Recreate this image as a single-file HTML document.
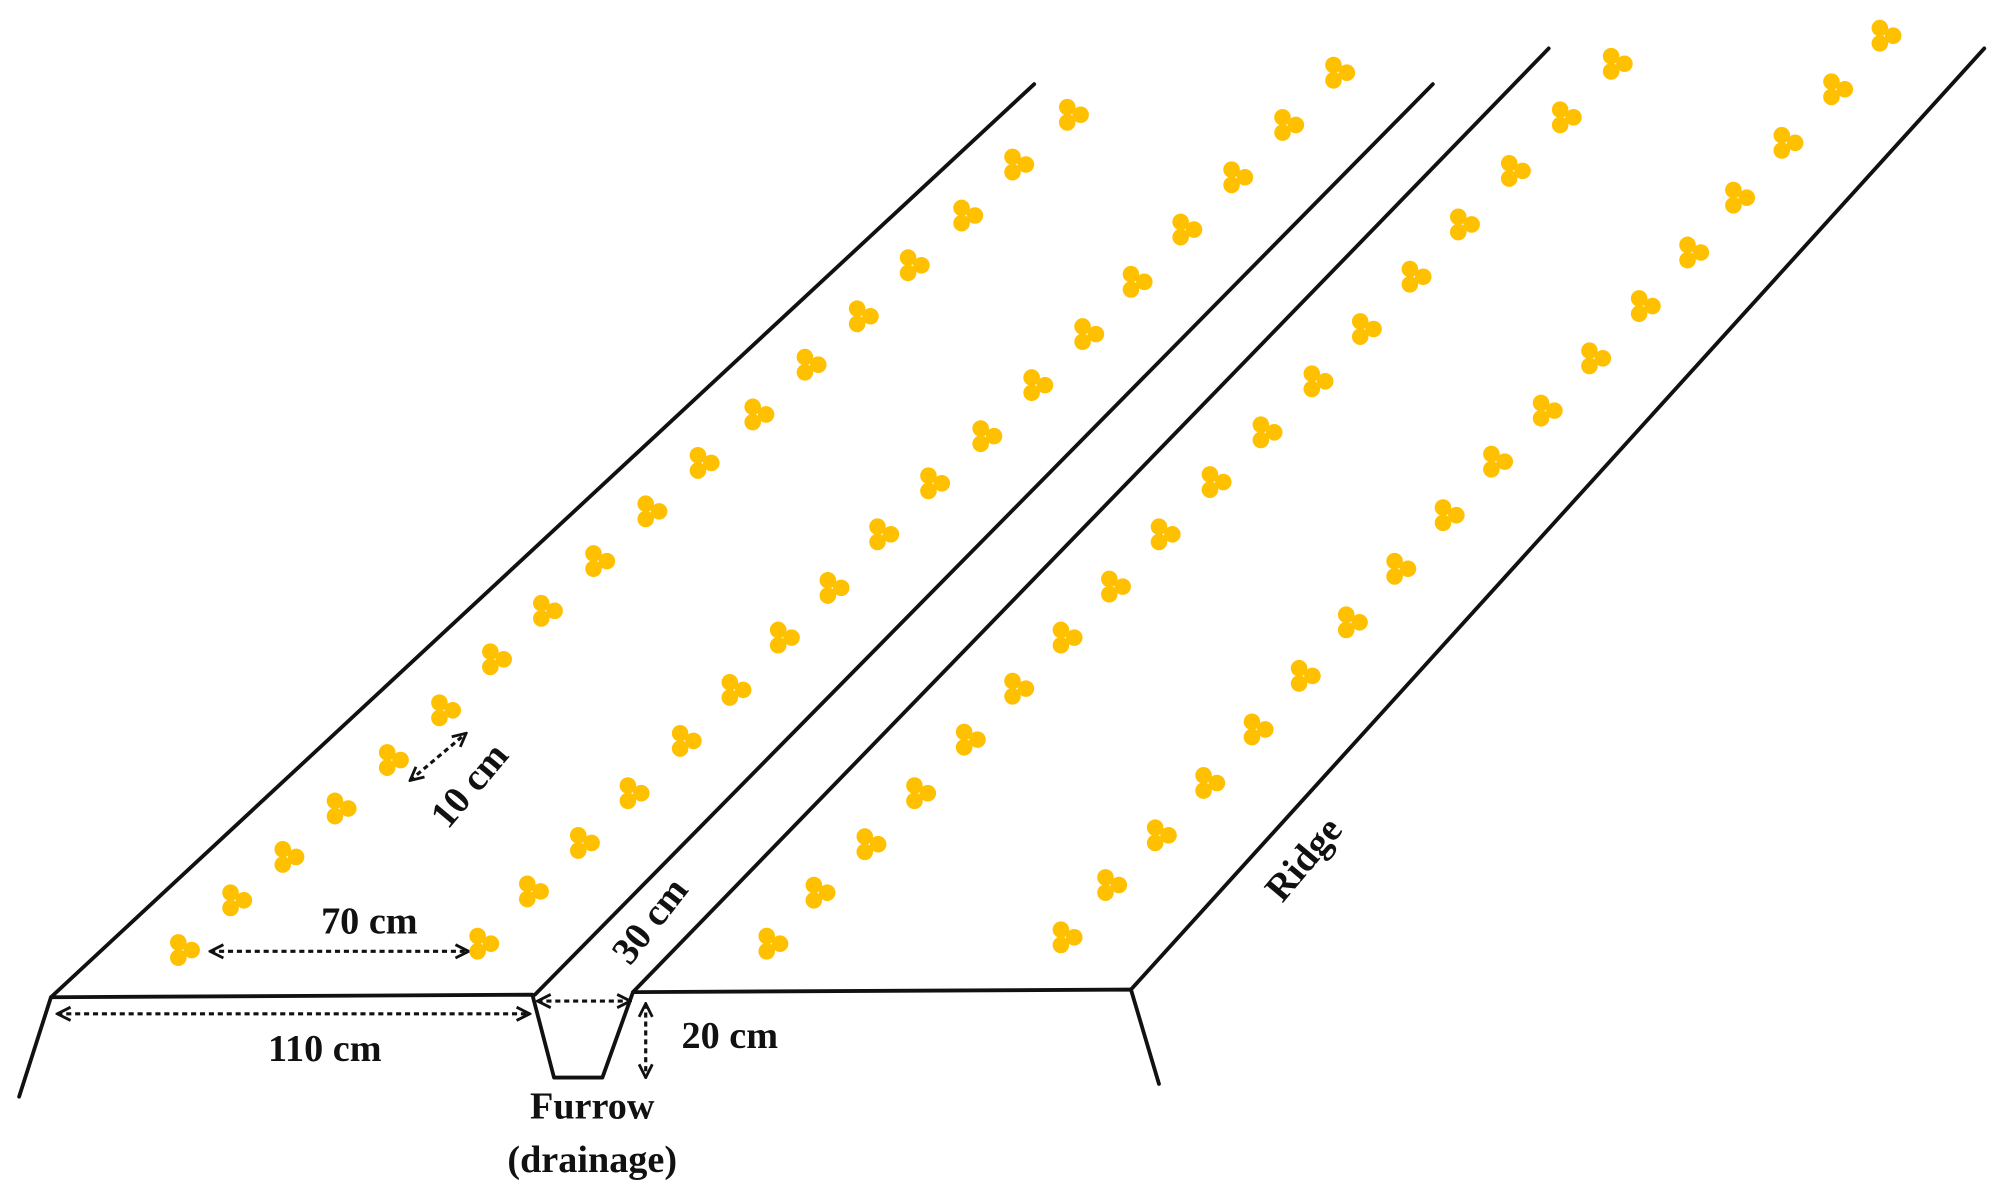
<!DOCTYPE html>
<html><head><meta charset="utf-8"><style>
html,body{margin:0;padding:0;background:#fff;}
svg{display:block}
text{font-family:"Liberation Serif",serif;font-weight:bold;fill:#111;}
</style></head><body>
<svg width="1997" height="1200" viewBox="0 0 1568 941" preserveAspectRatio="none" xmlns="http://www.w3.org/2000/svg">
<defs>
<g id="c"><circle cx="-5" cy="-6" r="6.5" fill="#FFC000"/><circle cx="-5" cy="6" r="6.5" fill="#FFC000"/><circle cx="5.5" cy="0" r="6.5" fill="#FFC000"/></g>
<marker id="a" viewBox="0 0 10 10" refX="9" refY="5" markerWidth="13" markerHeight="13" markerUnits="userSpaceOnUse" orient="auto-start-reverse"><path d="M1,1 L9,5 L1,9" fill="none" stroke="#111" stroke-width="1.7"/></marker>
</defs>
<g stroke="#111" stroke-width="3" fill="none" stroke-linecap="round" stroke-linejoin="round">
<line x1="40" y1="782" x2="812" y2="66"/>
<line x1="420" y1="780" x2="1125" y2="66"/>
<line x1="497" y1="778" x2="1216" y2="38"/>
<line x1="888" y1="776" x2="1558" y2="38"/>
<polyline points="15,860 40,782 418,780 435,845 473,845 497,778 888,776 910,850"/>
</g>
<g stroke="#111" stroke-width="2.5" stroke-dasharray="4,3" fill="none" marker-start="url(#a)" marker-end="url(#a)">
<line x1="165" y1="746" x2="368" y2="746"/>
<line x1="45" y1="795" x2="416" y2="795"/>
<line x1="422" y1="785" x2="495" y2="785"/>
<line x1="507" y1="787" x2="507" y2="845"/>
<line x1="322" y1="612" x2="366" y2="575"/>
</g>
<text x="290" y="732" font-size="30" text-anchor="middle">70 cm</text>
<text x="255" y="832" font-size="30" text-anchor="middle">110 cm</text>
<text x="573" y="822" font-size="30" text-anchor="middle">20 cm</text>
<text x="465" y="877" font-size="30" text-anchor="middle">Furrow</text>
<text x="465" y="919" font-size="30" text-anchor="middle">(drainage)</text>
<text transform="translate(518,728) rotate(-52)" font-size="30" text-anchor="middle">30 cm</text>
<text transform="translate(376,622) rotate(-50)" font-size="30" text-anchor="middle">10 cm</text>
<text transform="translate(1031,680) rotate(-50)" font-size="30" text-anchor="middle">Ridge</text>
<g>
<use href="#c" x="145" y="745"/><use href="#c" x="186" y="706"/><use href="#c" x="227" y="672"/><use href="#c" x="268" y="634"/><use href="#c" x="309" y="596"/><use href="#c" x="350" y="557"/><use href="#c" x="390" y="517"/><use href="#c" x="430" y="479"/><use href="#c" x="471" y="440"/><use href="#c" x="512" y="401"/><use href="#c" x="553" y="363"/><use href="#c" x="596" y="325"/><use href="#c" x="637" y="286"/><use href="#c" x="678" y="248"/><use href="#c" x="718" y="208"/><use href="#c" x="760" y="169"/><use href="#c" x="800" y="129"/><use href="#c" x="843" y="90"/>
<use href="#c" x="380" y="740"/><use href="#c" x="419" y="699"/><use href="#c" x="459" y="661"/><use href="#c" x="498" y="622"/><use href="#c" x="539" y="581"/><use href="#c" x="578" y="541"/><use href="#c" x="616" y="500"/><use href="#c" x="655" y="461"/><use href="#c" x="694" y="419"/><use href="#c" x="734" y="379"/><use href="#c" x="775" y="342"/><use href="#c" x="815" y="302"/><use href="#c" x="855" y="262"/><use href="#c" x="893" y="221"/><use href="#c" x="932" y="180"/><use href="#c" x="972" y="139"/><use href="#c" x="1012" y="98"/><use href="#c" x="1052" y="57"/>
<use href="#c" x="607" y="740"/><use href="#c" x="644" y="700"/><use href="#c" x="684" y="662"/><use href="#c" x="723" y="622"/><use href="#c" x="762" y="580"/><use href="#c" x="800" y="540"/><use href="#c" x="838" y="500"/><use href="#c" x="876" y="460"/><use href="#c" x="915" y="419"/><use href="#c" x="955" y="378"/><use href="#c" x="995" y="339"/><use href="#c" x="1035" y="299"/><use href="#c" x="1073" y="258"/><use href="#c" x="1112" y="217"/><use href="#c" x="1150" y="176"/><use href="#c" x="1190" y="134"/><use href="#c" x="1230" y="92"/><use href="#c" x="1270" y="50"/>
<use href="#c" x="838" y="735"/><use href="#c" x="873" y="694"/><use href="#c" x="912" y="655"/><use href="#c" x="950" y="614"/><use href="#c" x="988" y="572"/><use href="#c" x="1025" y="530"/><use href="#c" x="1062" y="488"/><use href="#c" x="1100" y="446"/><use href="#c" x="1138" y="404"/><use href="#c" x="1176" y="362"/><use href="#c" x="1215" y="322"/><use href="#c" x="1253" y="281"/><use href="#c" x="1292" y="240"/><use href="#c" x="1330" y="198"/><use href="#c" x="1366" y="155"/><use href="#c" x="1404" y="112"/><use href="#c" x="1443" y="70"/><use href="#c" x="1481" y="28"/>
</g>
</svg>
</body></html>
